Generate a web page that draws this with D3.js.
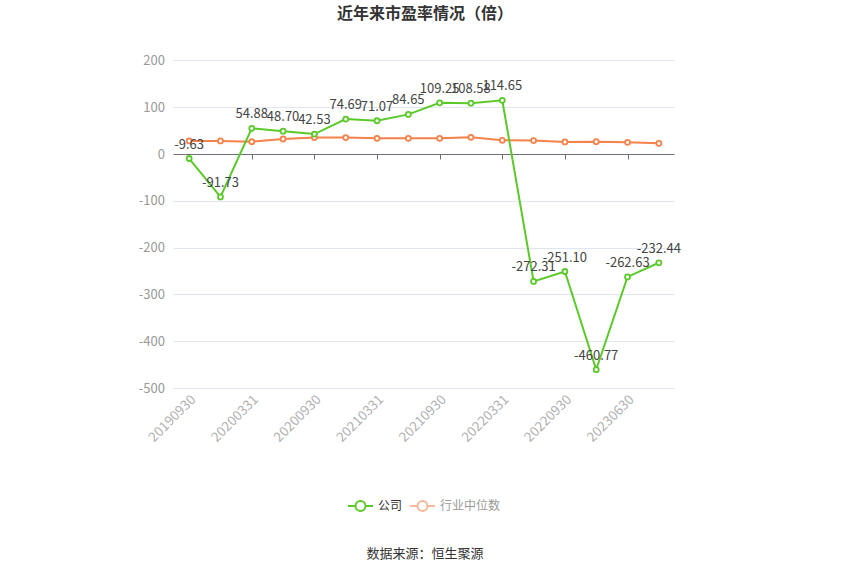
<!DOCTYPE html>
<html><head><meta charset="utf-8">
<script src="https://cdn.jsdelivr.net/npm/d3@7/dist/d3.min.js"></script>
<style>body{margin:0;background:#fff;}svg{display:block;font-family:"Microsoft YaHei","Noto Sans CJK SC",sans-serif;}</style>
</head><body><svg id="c" width="850" height="575"></svg>
<script>
const categories = ["20190930","20191231","20200331","20200630","20200930","20201231","20210331","20210630","20210930","20211231","20220331","20220630","20220930","20230331","20230630","20230930"];
const companyPE = [-9.63,-91.73,54.88,48.70,42.53,74.69,71.07,84.65,109.25,108.58,114.65,-272.31,-251.10,-460.77,-262.63,-232.44];
const industryPE = [27.9,27.9,26.4,32.1,35.0,35.0,33.6,33.6,33.6,35.7,29.3,28.6,25.7,26.4,25.0,22.9];
const yTicks = [-500,-400,-300,-200,-100,0,100,200];
const seriesNames = ["公司","行业中位数"];
const colors = ["#5cc92b","#f5824a"];

const svg = d3.select("#c");
const x = d3.scaleBand().domain(categories).range([173.5,674.5]);
const y = d3.scaleLinear().domain([-500,200]).range([388,60.4]);
const cx = d => x(d) + x.bandwidth()/2;

svg.append("text").attr("x",425).attr("y",19).attr("text-anchor","middle")
  .attr("font-size",16).attr("font-weight","bold").attr("fill","#333").text("近年来市盈率情况（倍）");

// grid
svg.append("g").selectAll("line").data(yTicks).join("line")
  .attr("x1",173.5).attr("x2",674.5).attr("y1",d=>Math.round(y(d))+0.5).attr("y2",d=>Math.round(y(d))+0.5)
  .attr("stroke","#e0e6f1");
// y labels
svg.append("g").selectAll("text").data(yTicks).join("text")
  .attr("x",165).attr("y",d=>y(d)).attr("dy","0.35em").attr("text-anchor","end")
  .attr("font-size",13).attr("fill","#999").text(d=>d);
// x axis at 0
const y0 = Math.round(y(0))+0.5;
svg.append("line").attr("x1",173.5).attr("x2",674.5).attr("y1",y0).attr("y2",y0).attr("stroke","#6e7079");
const shown = categories.filter((d,i)=>i%2===0);
svg.append("g").selectAll("line").data(shown).join("line")
  .attr("x1",d=>Math.round(cx(d))+0.5).attr("x2",d=>Math.round(cx(d))+0.5).attr("y1",y0).attr("y2",y0+5).attr("stroke","#6e7079");
svg.append("g").selectAll("text").data(shown).join("text")
  .attr("transform",d=>`translate(${cx(d)+4},${397}) rotate(-45)`).attr("text-anchor","end")
  .attr("font-size",13.5).attr("fill","#b0b0b0").attr("dy","0.35em").text(d=>d);

function drawSeries(vals,color,labels){
  const data = categories.map((c,i)=>({c,v:vals[i]}));
  svg.append("path").datum(data).attr("fill","none").attr("stroke",color).attr("stroke-width",2)
    .attr("d",d3.line().x(d=>cx(d.c)).y(d=>y(d.v)));
  svg.append("g").selectAll("circle").data(data).join("circle")
    .attr("cx",d=>cx(d.c)).attr("cy",d=>y(d.v)).attr("r",2.5).attr("fill","#fff").attr("stroke",color).attr("stroke-width",1.8);
  if(labels){
    svg.append("g").selectAll("text").data(data).join("text")
      .attr("x",d=>cx(d.c)).attr("y",d=>y(d.v)-10).attr("text-anchor","middle")
      .attr("font-size",13).attr("fill","#444").text(d=>d.v.toFixed(2));
  }
}
drawSeries(industryPE,colors[1],false);
drawSeries(companyPE,colors[0],true);

// legend
const lg = svg.append("g");
const items = [{n:seriesNames[0],c:colors[0],t:"#333",x:348},{n:seriesNames[1],c:"#f9b79a",t:"#999",x:410}];
items.forEach(it=>{
  lg.append("line").attr("x1",it.x).attr("x2",it.x+25).attr("y1",506).attr("y2",506).attr("stroke",it.c).attr("stroke-width",2);
  lg.append("circle").attr("cx",it.x+12.5).attr("cy",506).attr("r",5).attr("fill","#fff").attr("stroke",it.c).attr("stroke-width",2);
  lg.append("text").attr("x",it.x+30).attr("y",506).attr("dy","0.35em").attr("font-size",12).attr("fill",it.t).text(it.n);
});

svg.append("text").attr("x",425).attr("y",558).attr("text-anchor","middle").attr("font-size",13).attr("fill","#333").text("数据来源：恒生聚源");
</script></body></html>
